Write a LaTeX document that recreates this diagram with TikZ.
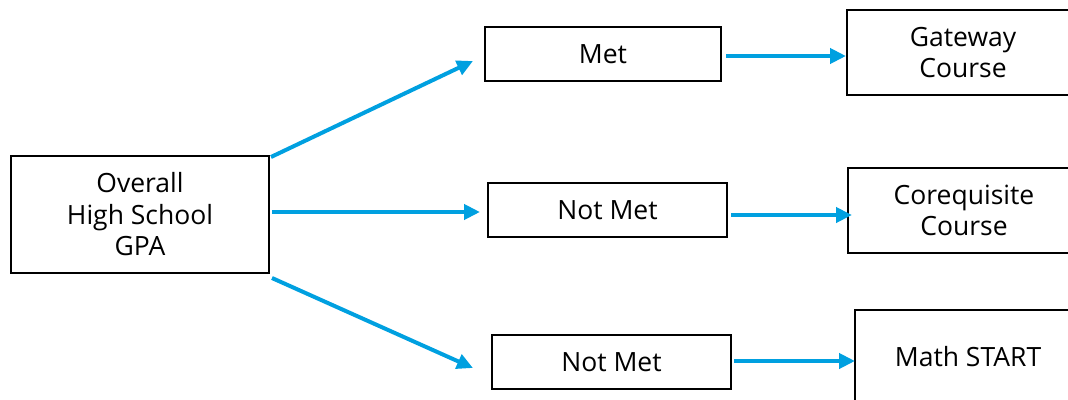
\documentclass[tikz,border=0pt]{standalone}
\usepackage{fontspec}
\setmainfont{Open Sans}
\usetikzlibrary{arrows.meta,calc}
\definecolor{arrowblue}{HTML}{00A0E0}
\tikzset{
  box/.style={draw=black, line width=2pt, fill=white, align=center, inner sep=0pt,
    font=\fontsize{26.5}{31.5}\selectfont},
  conn/.style={draw=arrowblue, line width=4pt, -{Triangle[length=16pt,width=15pt]}},
}
\begin{document}
\begin{tikzpicture}[x=1pt,y=-1pt]
\useasboundingbox (0,0) rectangle (1068,399);
\node[box, minimum width=258pt, minimum height=117pt] (gpa) at (140,214.5) {Overall\\High School\\GPA};
\node[box, minimum width=236pt, minimum height=54pt] (met) at (603,54) {Met};
\node[box, minimum width=239pt, minimum height=54pt] (nm1) at (607.5,210) {Not Met};
\node[box, minimum width=239pt, minimum height=54pt] (nm2) at (611.5,362) {Not Met};
\node[box, minimum width=232pt, minimum height=85pt] (gw) at (963,52.5) {Gateway\\Course};
\node[box, minimum width=232pt, minimum height=85pt] (co) at (964,210.5) {Corequisite\\Course};
\node[box, minimum width=226pt, minimum height=94pt] (ms) at (968,357) {Math START};
\draw[conn] ($(gpa.north east)+(1,2)$) -- ($(met.west)+(-11,7)$);
\draw[conn] ($(gpa.east)+(2,-2.5)$) -- ($(nm1.west)+(-7,2)$);
\draw[conn] ($(gpa.south east)+(2,4)$) -- ($(nm2.west)+(-18,6)$);
\draw[conn] ($(met.east)+(4,2)$) -- ($(gw.west)+(0,3.5)$);
\draw[conn] ($(nm1.east)+(3,5)$) -- ($(co.west)+(5,4.5)$);
\draw[conn] ($(nm2.east)+(2,-1)$) -- ($(ms.west)+(1,4)$);
\end{tikzpicture}
\end{document}
